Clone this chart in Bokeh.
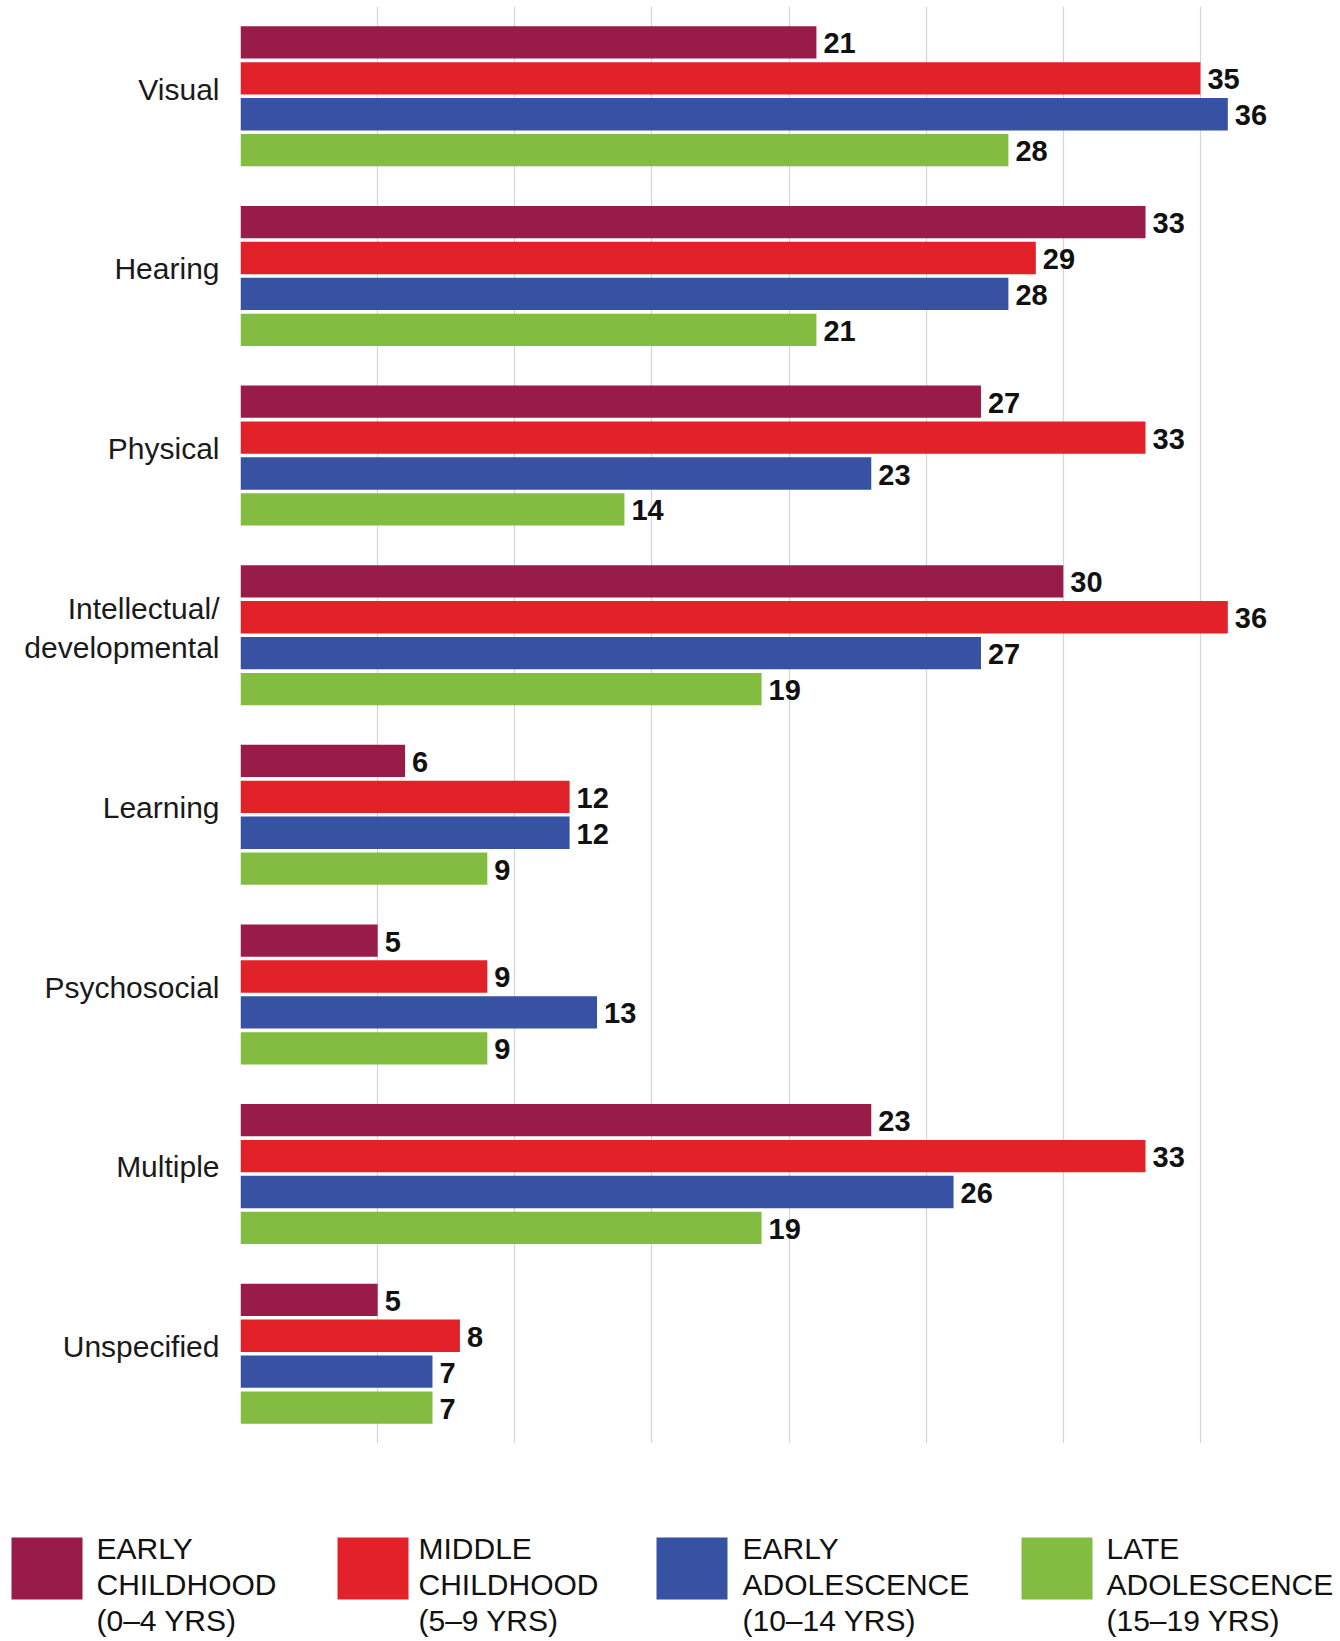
from bokeh.plotting import figure
from bokeh.models import ColumnDataSource, Range1d, FixedTicker, Grid
from bokeh.layouts import column
from bokeh.core.properties import value
from bokeh.embed import file_html
from bokeh.resources import INLINE

# Disability types (top to bottom)
categories = ["Visual", "Hearing", "Physical", "Intellectual/developmental",
              "Learning", "Psychosocial", "Multiple", "Unspecified"]
category_labels = ["Visual", "Hearing", "Physical", "Intellectual/\ndevelopmental",
                   "Learning", "Psychosocial", "Multiple", "Unspecified"]

# Age groups
series = ["EARLY CHILDHOOD (0–4 YRS)", "MIDDLE CHILDHOOD (5–9 YRS)",
          "EARLY ADOLESCENCE (10–14 YRS)", "LATE ADOLESCENCE (15–19 YRS)"]
series_lines = [["EARLY", "CHILDHOOD", "(0–4 YRS)"],
                ["MIDDLE", "CHILDHOOD", "(5–9 YRS)"],
                ["EARLY", "ADOLESCENCE", "(10–14 YRS)"],
                ["LATE", "ADOLESCENCE", "(15–19 YRS)"]]
colors = ["#981B48", "#E32128", "#3751A3", "#82BD41"]

# Values per age group, in category order
early_childhood = [21, 33, 27, 30, 6, 5, 23, 5]
middle_childhood = [35, 29, 33, 36, 12, 9, 33, 8]
early_adolescence = [36, 28, 23, 27, 12, 13, 26, 7]
late_adolescence = [28, 21, 14, 19, 9, 9, 19, 7]
values = [early_childhood, middle_childhood, early_adolescence, late_adolescence]

x_ticks = [0, 5, 10, 15, 20, 25, 30, 35, 40]

FONT = "Liberation Sans"
SLOT = 5  # four bars plus one gap per category

ys, vals, cols, labels = [], [], [], []
for g, _ in enumerate(categories):
    for k, vs in enumerate(values):
        ys.append(g * SLOT + k + 1)
        vals.append(vs[g])
        cols.append(colors[k])
        labels.append(str(vs[g]))
src = ColumnDataSource(dict(y=ys, value=vals, color=cols, label=labels))

p = figure(width=1340, height=1443, output_backend="svg", toolbar_location=None,
           x_range=Range1d(0, 40), y_range=Range1d(len(categories) * SLOT, 0),
           x_axis_location=None, min_border_left=240, min_border_right=3,
           min_border_top=6, min_border_bottom=0, frame_align=False)
p.outline_line_color = None
p.center = [r for r in p.center if not isinstance(r, Grid)]
p.add_layout(Grid(dimension=0, ticker=FixedTicker(ticks=x_ticks),
                  grid_line_color="#d4d4d4", grid_line_width=1.2))

p.hbar(y="y", left=0, right="value", height=0.9, fill_color="color",
       line_color=None, source=src)
p.text(x="value", y="y", text="label", x_offset=7, y_offset=1,
       text_baseline="middle", text_align="left", text_font=value(FONT),
       text_font_style="bold", text_font_size="29px", text_color="#111111",
       source=src)

tick_pos = [g * SLOT + 2.3 for g in range(len(categories))]
ax = p.yaxis[0]
ax.ticker = FixedTicker(ticks=tick_pos)
ax.major_label_overrides = {t: lab for t, lab in zip(tick_pos, category_labels)}
ax.axis_line_color = None
ax.major_tick_line_color = None
ax.minor_tick_line_color = None
ax.major_tick_out = 0
ax.major_tick_in = 0
ax.major_label_standoff = 21
ax.major_label_text_font = FONT
ax.major_label_text_font_size = "30px"
ax.major_label_text_color = "#1a1a1a"
p.ygrid.visible = False

# Legend strip below the chart, laid out in pixel units
leg = figure(width=1340, height=198, output_backend="svg", toolbar_location=None,
             x_range=Range1d(0, 1340), y_range=Range1d(198, 0),
             x_axis_location=None, y_axis_location=None,
             min_border=0, frame_align=False)
leg.outline_line_color = None
leg.grid.visible = False

sw_left = [11, 337, 656, 1021]
txt_left = [96, 418, 742, 1106]
leg.quad(left=sw_left, right=[x + 71 for x in sw_left], top=[94] * 4,
         bottom=[156] * 4, fill_color=colors, line_color=None)
lx, ly, lt = [], [], []
for i, lines in enumerate(series_lines):
    for j, line in enumerate(lines):
        lx.append(txt_left[i])
        ly.append(105 + 36 * j)
        lt.append(line)
leg.text(x=lx, y=ly, text=lt, text_baseline="alphabetic", text_align="left",
         text_font=value(FONT), text_font_size="30px", text_color="#111111")

layout = column(p, leg, spacing=0)
open("out.html", "w").write(file_html(layout, INLINE))
